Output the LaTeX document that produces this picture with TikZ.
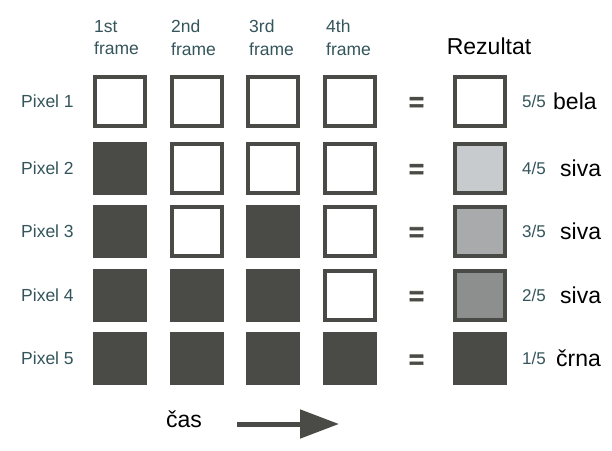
\documentclass[tikz,border=0pt]{standalone}
\usepackage{fontspec}
\setmainfont{Liberation Sans}
\usetikzlibrary{arrows.meta}
\definecolor{ink}{HTML}{4A4B46}
\definecolor{lab}{HTML}{34555B}
\definecolor{gA}{HTML}{C8CBCD}
\definecolor{gB}{HTML}{A8AAAB}
\definecolor{gC}{HTML}{8D8F8E}
\begin{document}
\begin{tikzpicture}[x=1pt,y=-1pt,
  cell/.style={draw=ink, line width=4pt, minimum width=50pt, minimum height=49pt, inner sep=0pt, fill=white},
  darkcell/.style={cell, fill=ink},
  pixlab/.style={text=lab, font=\fontsize{17.5}{20}\selectfont, anchor=west, inner sep=0pt},
  head/.style={text=lab, font=\fontsize{17.5}{22.5}\selectfont, align=left, anchor=north west, inner sep=0pt},
  frac/.style={text=lab, font=\fontsize{17}{20}\selectfont, inner sep=0pt},
  big/.style={text=black, font=\fontsize{23}{27}\selectfont, inner sep=0pt, anchor=west},
  eq/.style={text=ink, font=\bfseries\fontsize{26}{30}\selectfont\addfontfeature{FakeBold=2}, inner sep=0pt}]
\useasboundingbox (0,0) rectangle (612,450);
\fill[white] (0,0) rectangle (612,450);
% headers
\node[head] (h1) at (94,20) {1st\\frame};
\node[head] (h2) at (171,20) {2nd\\frame};
\node[head] (h3) at (249,20) {3rd\\frame};
\node[head] (h4) at (326,20) {4th\\frame};
\node[big, anchor=center] (rez) at (489,46) {Rezultat};
% rows: y, pattern
\foreach \r/\y/\a/\b/\c/\d/\res/\fr/\word/\wx in
  {1/101/cell/cell/cell/cell/white/5\slash 5/bela/553,
   2/168/darkcell/cell/cell/cell/gA/4\slash 5/siva/560,
   3/231/darkcell/cell/darkcell/cell/gB/3\slash 5/siva/560,
   4/295/darkcell/darkcell/darkcell/cell/gC/2\slash 5/siva/560,
   5/358.5/darkcell/darkcell/darkcell/darkcell/ink/1\slash 5/črna/556}{
  \node[pixlab] (p\r) at (21,\y) {Pixel \r};
  \node[\a] (c\r a) at (120,\y) {};
  \node[\b] (c\r b) at (196.5,\y) {};
  \node[\c] (c\r c) at (273,\y) {};
  \node[\d] (c\r d) at (350,\y) {};
  \node[eq] (e\r) at (416.5,\y+3) {=};
  \node[cell, fill=\res] (res\r) at (480,\y) {};
  \node[frac] (f\r) at (534,\y) {\fr};
  \node[big] (w\r) at (\wx,\y) {\word};
}
% time arrow
\node[big, anchor=center] (cas) at (184,419) {čas};
\coordinate (arS) at (237,424);
\coordinate (arE) at (339,424);
\draw[ink, line width=5pt, -{Triangle[length=39pt,width=28pt]}] (arS) -- (arE);
\end{tikzpicture}
\end{document}
